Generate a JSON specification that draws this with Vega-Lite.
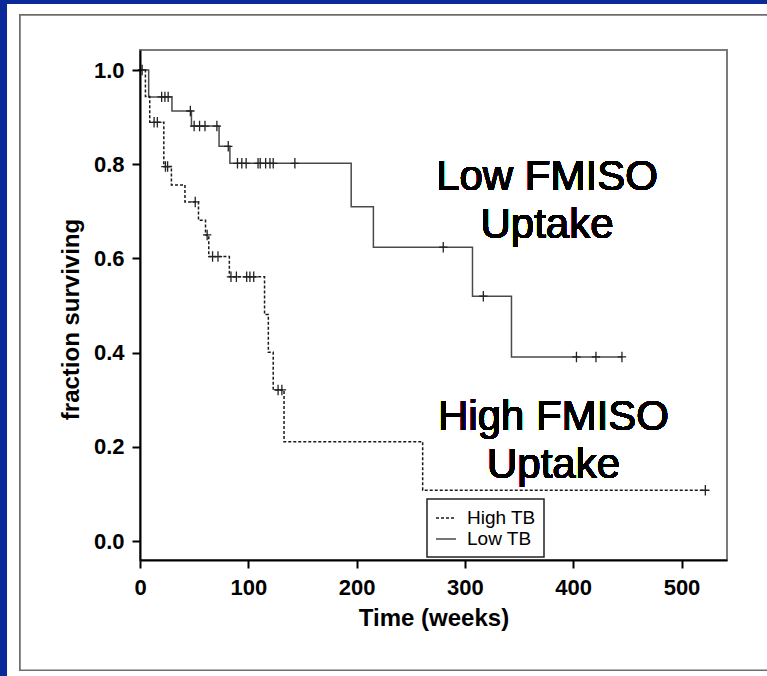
{
  "$schema": "https://vega.github.io/schema/vega-lite/v6.json",
  "width": 587,
  "height": 510,
  "autosize": {"type": "none"},
  "padding": {"left": 140, "top": 50, "right": 40, "bottom": 116},
  "background": "#0a2a9a",
  "config": {
    "font": "Liberation Sans",
    "view": {"stroke": null},
    "axis": {
      "grid": false, "labelFlush": false,
      "domainColor": "black", "domainWidth": 2,
      "tickColor": "black", "tickWidth": 2, "tickSize": 8,
      "labelFont": "Liberation Sans", "labelFontWeight": "bold", "labelFontSize": 22, "labelColor": "black",
      "titleFont": "Liberation Sans", "titleFontWeight": "bold", "titleFontSize": 24, "titleColor": "black"
    },
    "legend": {
      "orient": "none", "legendX": 287, "legendY": 449,
      "symbolType": "stroke", "symbolSize": 400, "symbolStrokeWidth": 1.5,
      "labelFont": "Liberation Sans", "labelFontSize": 19, "labelColor": "black", "labelOffset": 10,
      "padding": 8, "rowPadding": -3,
      "strokeColor": "#222", "strokeWidth": 1.5, "fillColor": "white"
    }
  },
  "data": {
    "values": [
      {"g": "Low TB", "t": 0, "s": 1, "c": 0},
      {"g": "Low TB", "t": 2, "s": 1, "c": 1},
      {"g": "Low TB", "t": 8, "s": 0.943, "c": 0},
      {"g": "Low TB", "t": 20, "s": 0.943, "c": 1},
      {"g": "Low TB", "t": 23, "s": 0.943, "c": 1},
      {"g": "Low TB", "t": 26, "s": 0.943, "c": 1},
      {"g": "Low TB", "t": 29.5, "s": 0.913, "c": 0},
      {"g": "Low TB", "t": 46.5, "s": 0.913, "c": 1},
      {"g": "Low TB", "t": 47.5, "s": 0.881, "c": 0},
      {"g": "Low TB", "t": 50, "s": 0.881, "c": 1},
      {"g": "Low TB", "t": 55, "s": 0.881, "c": 1},
      {"g": "Low TB", "t": 60, "s": 0.881, "c": 1},
      {"g": "Low TB", "t": 71, "s": 0.881, "c": 1},
      {"g": "Low TB", "t": 73, "s": 0.838, "c": 0},
      {"g": "Low TB", "t": 81.5, "s": 0.838, "c": 1},
      {"g": "Low TB", "t": 83, "s": 0.802, "c": 0},
      {"g": "Low TB", "t": 90, "s": 0.802, "c": 1},
      {"g": "Low TB", "t": 94, "s": 0.802, "c": 1},
      {"g": "Low TB", "t": 98, "s": 0.802, "c": 1},
      {"g": "Low TB", "t": 109, "s": 0.802, "c": 1},
      {"g": "Low TB", "t": 111, "s": 0.802, "c": 1},
      {"g": "Low TB", "t": 116, "s": 0.802, "c": 1},
      {"g": "Low TB", "t": 120, "s": 0.802, "c": 1},
      {"g": "Low TB", "t": 123, "s": 0.802, "c": 1},
      {"g": "Low TB", "t": 143, "s": 0.802, "c": 1},
      {"g": "Low TB", "t": 195, "s": 0.71, "c": 0},
      {"g": "Low TB", "t": 215.5, "s": 0.624, "c": 0},
      {"g": "Low TB", "t": 280, "s": 0.624, "c": 1},
      {"g": "Low TB", "t": 307, "s": 0.52, "c": 0},
      {"g": "Low TB", "t": 317, "s": 0.52, "c": 1},
      {"g": "Low TB", "t": 343, "s": 0.391, "c": 0},
      {"g": "Low TB", "t": 403, "s": 0.391, "c": 1},
      {"g": "Low TB", "t": 421, "s": 0.391, "c": 1},
      {"g": "Low TB", "t": 445, "s": 0.391, "c": 1},
      {"g": "High TB", "t": 0, "s": 1, "c": 0},
      {"g": "High TB", "t": 5, "s": 0.944, "c": 0},
      {"g": "High TB", "t": 9, "s": 0.889, "c": 0},
      {"g": "High TB", "t": 13, "s": 0.889, "c": 1},
      {"g": "High TB", "t": 16, "s": 0.889, "c": 1},
      {"g": "High TB", "t": 22, "s": 0.795, "c": 0},
      {"g": "High TB", "t": 23.5, "s": 0.795, "c": 1},
      {"g": "High TB", "t": 25.5, "s": 0.795, "c": 1},
      {"g": "High TB", "t": 29, "s": 0.756, "c": 0},
      {"g": "High TB", "t": 41.5, "s": 0.72, "c": 0},
      {"g": "High TB", "t": 51, "s": 0.72, "c": 1},
      {"g": "High TB", "t": 54, "s": 0.681, "c": 0},
      {"g": "High TB", "t": 60.5, "s": 0.65, "c": 0},
      {"g": "High TB", "t": 62, "s": 0.65, "c": 1},
      {"g": "High TB", "t": 63.5, "s": 0.604, "c": 0},
      {"g": "High TB", "t": 67, "s": 0.604, "c": 1},
      {"g": "High TB", "t": 72, "s": 0.604, "c": 1},
      {"g": "High TB", "t": 82.5, "s": 0.561, "c": 0},
      {"g": "High TB", "t": 84, "s": 0.561, "c": 1},
      {"g": "High TB", "t": 89, "s": 0.561, "c": 1},
      {"g": "High TB", "t": 98.5, "s": 0.561, "c": 1},
      {"g": "High TB", "t": 101.5, "s": 0.561, "c": 1},
      {"g": "High TB", "t": 105, "s": 0.561, "c": 1},
      {"g": "High TB", "t": 115, "s": 0.481, "c": 0},
      {"g": "High TB", "t": 118.5, "s": 0.401, "c": 0},
      {"g": "High TB", "t": 123, "s": 0.321, "c": 0},
      {"g": "High TB", "t": 127.5, "s": 0.321, "c": 1},
      {"g": "High TB", "t": 131, "s": 0.321, "c": 1},
      {"g": "High TB", "t": 133, "s": 0.211, "c": 0},
      {"g": "High TB", "t": 261, "s": 0.108, "c": 0},
      {"g": "High TB", "t": 522, "s": 0.108, "c": 1}
    ]
  },
  "encoding": {
    "x": {"field": "t", "type": "quantitative",
      "scale": {"domain": [0, 542], "nice": false, "zero": false},
      "axis": {"zindex": 1, "values": [0, 100, 200, 300, 400, 500], "title": "Time (weeks)", "labelPadding": 9, "titlePadding": 8}},
    "y": {"field": "s", "type": "quantitative",
      "scale": {"domain": [-0.04, 1.0425], "nice": false, "zero": false},
      "axis": {"zindex": 1, "values": [0, 0.2, 0.4, 0.6, 0.8, 1.0], "format": ".1f", "title": "fraction surviving", "labelPadding": 8, "titlePadding": 10, "titleY": 269}}
  },
  "layer": [
    {
      "mark": {"type": "rect", "fill": "white", "strokeWidth": 0},
      "encoding": {"x": {"datum": -122}, "x2": {"datum": 640}, "y": {"datum": 1.14}, "y2": {"datum": -0.34}}
    },
    {
      "mark": {"type": "rect", "fill": "white", "stroke": "#6e6e6e", "strokeWidth": 1.5},
      "encoding": {"x": {"datum": -110.8}, "x2": {"datum": 640}, "y": {"datum": 1.117}, "y2": {"datum": -0.274}}
    },
    {
      "mark": {"type": "rect", "fill": null, "fillOpacity": 0, "stroke": "#7a7a7a", "strokeWidth": 2},
      "encoding": {"x": {"datum": 0}, "x2": {"datum": 542}, "y": {"datum": -0.04}, "y2": {"datum": 1.0425}}
    },
    {
      "mark": {"type": "line", "interpolate": "step-after", "strokeWidth": 1.5},
      "encoding": {
        "order": {"field": "t", "type": "quantitative"},
        "color": {"field": "g", "type": "nominal", "scale": {"domain": ["High TB", "Low TB"], "range": ["#1a1a1a", "#4a4a4a"]}, "legend": {"title": null}},
        "strokeDash": {"field": "g", "type": "nominal", "scale": {"domain": ["High TB", "Low TB"], "range": [[3, 2], [1, 0]]}, "legend": {"title": null}}
      }
    },
    {
      "transform": [{"filter": "datum.c == 1"}],
      "mark": {"type": "point", "shape": "M-0.8,0H0.8M0,-1V1", "filled": false, "strokeWidth": 1.3, "color": "#222", "size": 110, "opacity": 1}
    },
    {
      "mark": {"type": "text", "text": ["Low FMISO", "Uptake"], "font": "Liberation Sans", "fontSize": 42, "lineHeight": 48, "align": "center", "baseline": "alphabetic", "color": "black"},
      "encoding": {"x": {"datum": 375.8}, "y": {"datum": 0.745}}
    },
    {
      "mark": {"type": "text", "text": ["High FMISO", "Uptake"], "font": "Liberation Sans", "fontSize": 42, "lineHeight": 48, "align": "center", "baseline": "alphabetic", "color": "black"},
      "encoding": {"x": {"datum": 381.8}, "y": {"datum": 0.2356}}
    }
  ]
}
